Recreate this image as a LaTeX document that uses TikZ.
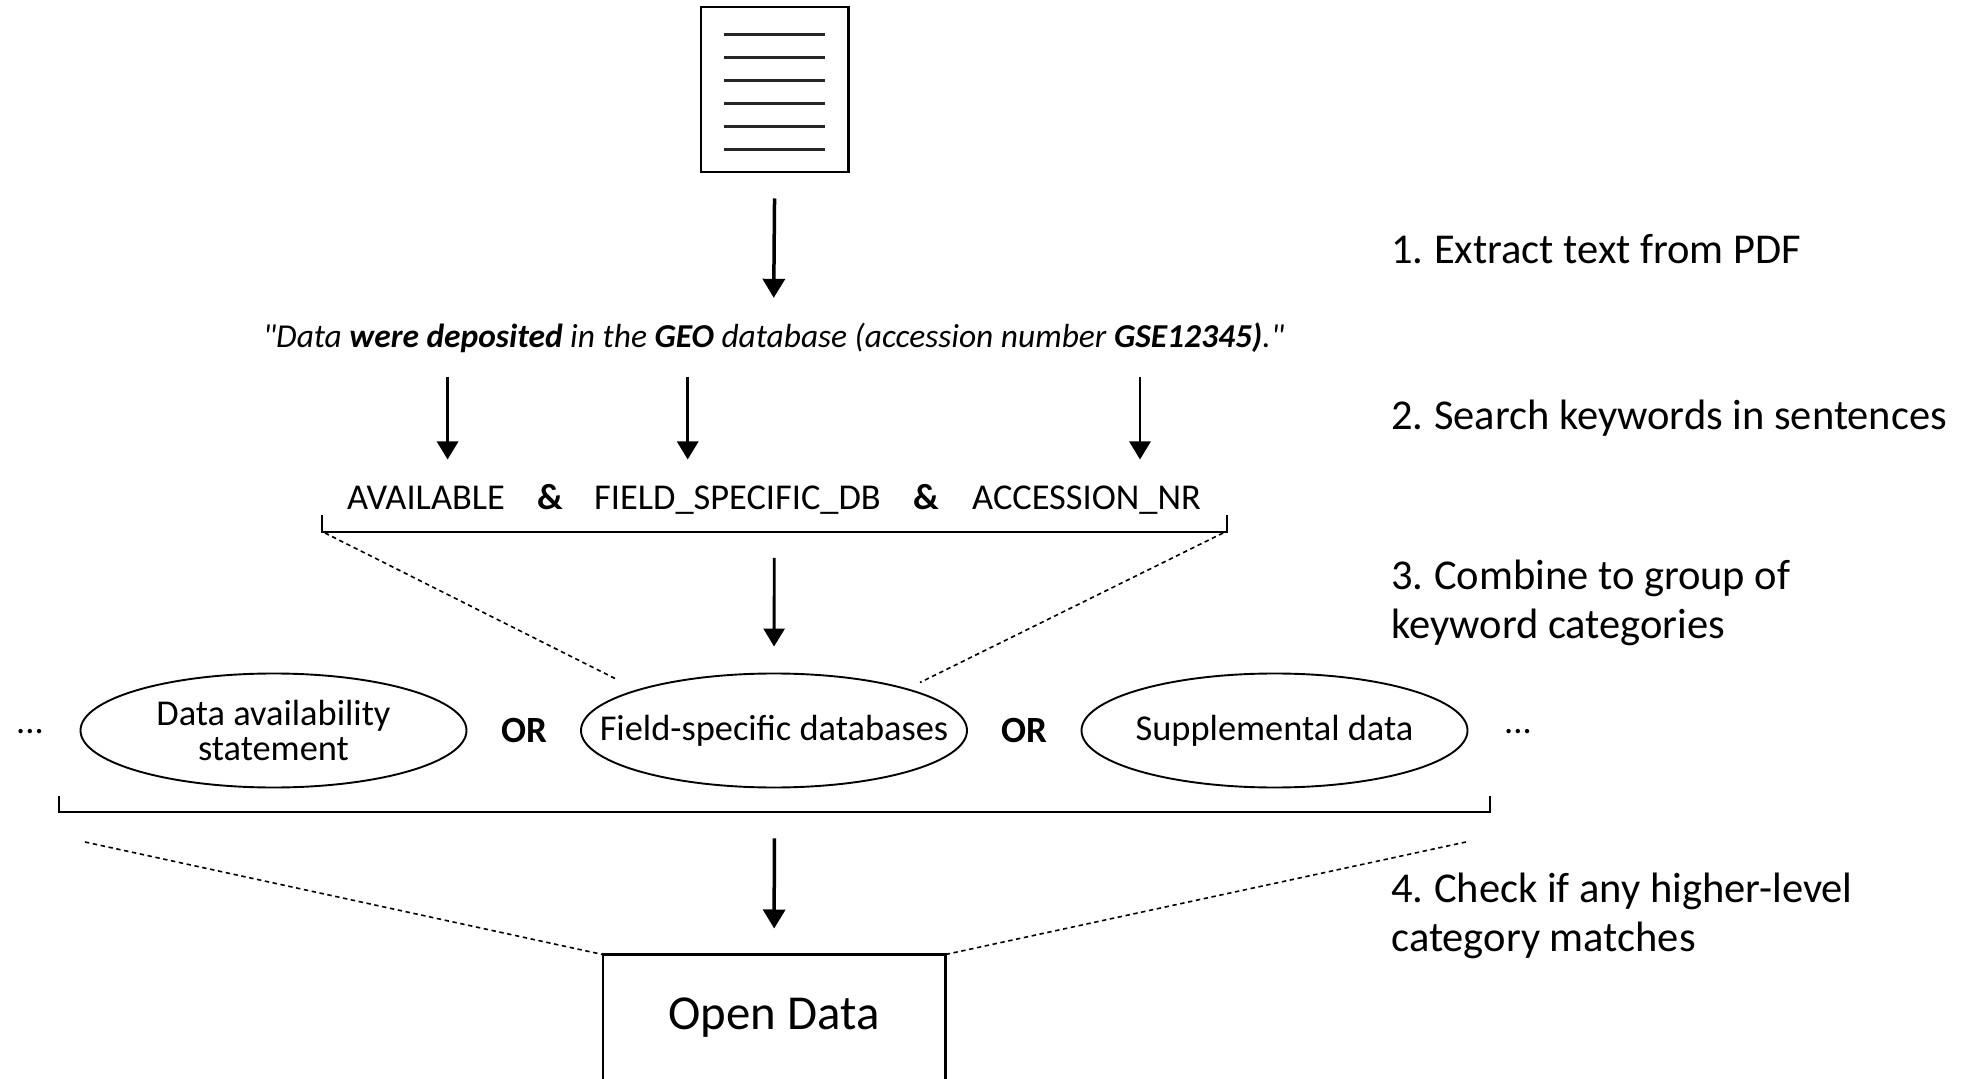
\documentclass[tikz,border=0pt]{standalone}
\usepackage{fontspec}
\setmainfont{Carlito}[Ligatures=TeXOff]
\usetikzlibrary{arrows.meta,shapes.geometric,calc}
\tikzset{
  bigarrow/.style={line width=1.75pt,-{Triangle[width=11pt,length=9.5pt]}},
  smallarrow/.style={line width=1.45pt,-{Triangle[width=10.5pt,length=9pt]}},
  solidline/.style={line width=1.05pt,black},
  docline/.style={line width=1.05pt,black!85},
  dotline/.style={line width=0.8pt,dash pattern=on 2.2pt off 1.8pt},
  oval/.style={draw,ellipse,line width=0.95pt,minimum width=193pt,minimum height=57pt,inner sep=0pt,align=center,font=\fontsize{18.2}{18}\selectfont},
  steptext/.style={anchor=base west,inner sep=0pt,font=\fontsize{21.25}{20}\selectfont},
  kwtext/.style={anchor=base,inner sep=0pt,font=\fontsize{18.2}{18}\selectfont},
  amptext/.style={anchor=base,inner sep=0pt,font=\fontsize{18.2}{18}\selectfont\bfseries},
  optext/.style={anchor=base,inner sep=0pt,font=\fontsize{18.5}{18}\selectfont\bfseries},
}
\newcommand{\zw}[1]{\makebox[0pt][c]{#1}}
\newcommand{\nsp}{\hspace{-1.2pt}}
\begin{document}
\begin{tikzpicture}[x=0.5pt,y=-0.5pt]
\useasboundingbox (0,0) rectangle (1965,1079);
% document
\node[draw,solidline,minimum width=73.7pt,minimum height=82.7pt,inner sep=0pt,anchor=north west] (doc) at (700,6) {};
\foreach \i/\yy in {1/34.5,2/57.5,3/80.5,4/103.5,5/126.5,6/149.5}{
  \draw[docline] (723.5,\yy) -- (825,\yy);
}
% quote
\node[anchor=base,inner sep=0pt,font=\fontsize{16.72}{18}\selectfont] (quote) at (773.5,348)
 {\itshape "Data \textbf{were deposited} in the \textbf{GEO} database (accession number \textbf{GSE12345)}."};
\draw[bigarrow,shorten <=12.5pt,shorten >=12.5pt] (doc.south) -- (quote.north);
% keywords
\node[kwtext] (avail) at (426,510) {AVAILABLE};
\node[amptext] (amp1) at (550,510) {\&};
\node[kwtext] (field) at (737.5,510) {FIELD\_SPECIFIC\_DB};
\node[amptext] (amp2) at (926,510) {\&};
\node[kwtext] (acc) at (1086.5,510) {ACCESSION\_NR};
\coordinate (s1) at (447.6,377); \coordinate (e1) at (447.6,459.5);
\coordinate (s2) at (687.7,377); \coordinate (e2) at (687.7,459.5);
\coordinate (s3) at (1140,377); \coordinate (e3) at (1140,459.5);
\draw[smallarrow] (s1) -- (e1);
\draw[smallarrow] (s2) -- (e2);
\draw[smallarrow] (s3) -- (e3);
% bracket 1
\node[minimum width=452.35pt,minimum height=8pt,inner sep=0pt,anchor=north west] (brk1) at (321.6,515) {};
\draw[solidline] (brk1.north west) -- (brk1.south west) -- (brk1.south east) -- (brk1.north east);
% ellipses
\node[oval] (e-data) at (273.5,730.5) {\zw{Data availability}\\[-0.3pt]\zw{statement}};
\node[oval] (e-field) at (774,730.5) {\zw{Field-specific databases}};
\node[oval] (e-supp) at (1274.5,730.5) {\zw{Supplemental data}};
\node[optext] (or1) at (524,742.5) {OR};
\node[optext] (or2) at (1024,742.5) {OR};
\node[kwtext] (dots1) at (30,733) {...};
\node[kwtext] (dots2) at (1518,733) {...};
\draw[smallarrow,shorten <=13pt,shorten >=13pt] (brk1.south) -- (e-field.north);
\coordinate (d1a) at (325,533); \coordinate (d1b) at (618,680);
\coordinate (d2a) at (1223,533); \coordinate (d2b) at (920,682.5);
\draw[dotline] (d1a) -- (d1b);
\draw[dotline] (d2a) -- (d2b);
% bracket 2
\node[minimum width=715.3pt,minimum height=8pt,inner sep=0pt,anchor=north west] (brk2) at (58.7,795.5) {};
\draw[solidline] (brk2.north west) -- (brk2.south west) -- (brk2.south east) -- (brk2.north east);
% open data
\node[minimum width=171pt,minimum height=62.5pt,inner sep=0pt,anchor=north west,font=\fontsize{24.4}{26}\selectfont] (open) at (602.7,954.5) {\raisebox{-1pt}{Open Data}};
\draw[solidline] (open.south west) -- (open.north west) -- (open.north east) -- (open.south east);
\draw[bigarrow,shorten <=13pt,shorten >=13pt] (brk2.south) -- (open.north);
\coordinate (d3a) at (85,842); \coordinate (d4a) at (1466,842);
\draw[dotline] (d3a) -- (open.north west);
\draw[dotline] (d4a) -- (open.north east);
% step labels
\node[steptext] (st1) at (1391,263.5) {1.\nsp{} Extract text from PDF};
\node[steptext] (st2) at (1391,429.5) {2.\nsp{} Search keywords in sentences};
\node[steptext] (st3a) at (1391,589.5) {3.\nsp{} Combine to group of};
\node[steptext] (st3b) at (1391,638.5) {keyword categories};
\node[steptext] (st4a) at (1391,902) {4.\nsp{} Check if any higher-level};
\node[steptext] (st4b) at (1391,951) {category matches};
\end{tikzpicture}
\end{document}
